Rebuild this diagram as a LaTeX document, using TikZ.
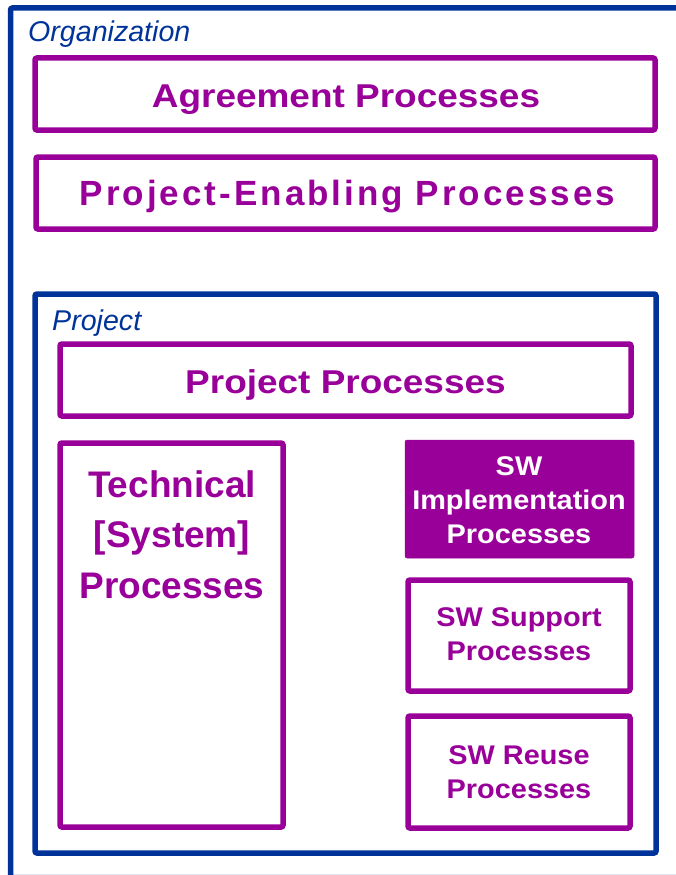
\documentclass[tikz,border=0pt]{standalone}
\usepackage{fontspec}
\setmainfont{Liberation Sans}
\definecolor{pur}{HTML}{990099}
\definecolor{blu}{HTML}{003399}
\tikzset{
  pbox/.style={draw=pur, line width=5.5pt, rounded corners=2pt, inner sep=0pt},
  bbox/.style={draw=blu, line width=5.5pt, rounded corners=2pt, inner sep=0pt},
  fbox/.style={fill=pur, draw=pur, line width=0.5pt, rounded corners=2pt, inner sep=0pt},
  lbl/.style={text=blu, anchor=base west, inner sep=0pt, font=\fontsize{28.6}{34}\selectfont\itshape},
  ptxt/.style={text=pur, align=center, inner sep=0pt, anchor=base},
  big/.style={font=\fontsize{33}{40}\selectfont\bfseries\addfontfeatures{FakeStretch=1.12}},
  small/.style={font=\fontsize{27}{34}\selectfont\bfseries\addfontfeatures{FakeStretch=1.07}}
}
\begin{document}
\begin{tikzpicture}[x=1pt,y=-1pt]
\useasboundingbox (0,0) rectangle (676,875);
\clip (0,0) rectangle (676,875);
% organization
\node[bbox, minimum width=680pt, minimum height=869.5pt] (org) at (350.5,442.75) {};
\node[lbl] (orgl) at (28,42) {Organization};
\node[pbox, minimum width=620pt, minimum height=72pt] (agr) at (345,94) {};
\node[ptxt, big] (agrt) at (346,107) {Agreement Processes};
\node[pbox, minimum width=619pt, minimum height=72pt] (pen) at (345.5,193) {};
\node[ptxt, font=\fontsize{35}{40}\selectfont\bfseries\addfontfeatures{LetterSpace=8.6}] (pent) at (347.5,205) {Project-Enabling Processes};
% project
\node[bbox, minimum width=621pt, minimum height=559pt] (prj) at (345.5,573.5) {};
\node[lbl] (prjl) at (52,330) {Project};
\node[pbox, minimum width=571pt, minimum height=72pt] (pp) at (345.5,380) {};
\node[ptxt, big] (ppt) at (345.5,393) {Project Processes};
\node[pbox, minimum width=223pt, minimum height=384pt] (tech) at (171.5,635) {};
\node[ptxt, font=\fontsize{37}{50.5}\selectfont\bfseries] (techt) at (172,598) {Technical\\{}[System]\\Processes};
\node[fbox, minimum width=229pt, minimum height=118pt] (impl) at (519.5,499) {};
\node[ptxt, small, text=white] (implt) at (519,543) {SW\\Implementation\\Processes};
\node[pbox, minimum width=222pt, minimum height=111pt] (sup) at (519,635.5) {};
\node[ptxt, small] (supt) at (519,660) {SW Support\\Processes};
\node[pbox, minimum width=222pt, minimum height=112pt] (reu) at (519,772) {};
\node[ptxt, small] (reut) at (519,798) {SW Reuse\\Processes};
\end{tikzpicture}
\end{document}
